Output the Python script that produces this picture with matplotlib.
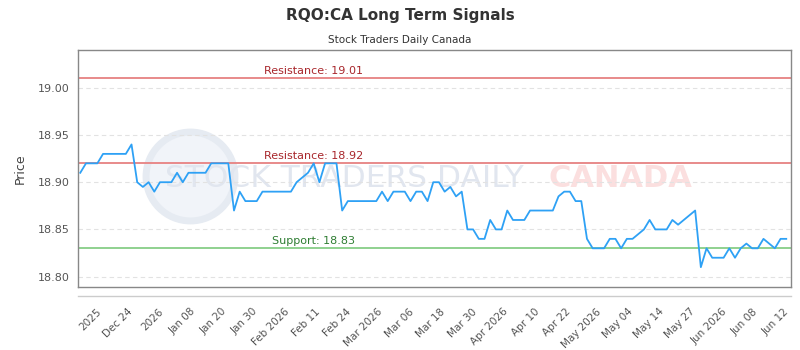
import numpy as np
import matplotlib.pyplot as plt

# closing prices, one per trading session
prices = [
    18.91, 18.92, 18.92, 18.92, 18.93, 18.93, 18.93, 18.93, 18.93, 18.94,
    18.90, 18.895, 18.90, 18.89, 18.90, 18.90, 18.90, 18.91, 18.90, 18.91,
    18.91, 18.91, 18.91, 18.92, 18.92, 18.92, 18.92, 18.87, 18.89, 18.88,
    18.88, 18.88, 18.89, 18.89, 18.89, 18.89, 18.89, 18.89, 18.90, 18.905,
    18.91, 18.92, 18.90, 18.92, 18.92, 18.92, 18.87, 18.88, 18.88, 18.88,
    18.88, 18.88, 18.88, 18.89, 18.88, 18.89, 18.89, 18.89, 18.88, 18.89,
    18.89, 18.88, 18.90, 18.90, 18.89, 18.895, 18.885, 18.89, 18.85, 18.85,
    18.84, 18.84, 18.86, 18.85, 18.85, 18.87, 18.86, 18.86, 18.86, 18.87,
    18.87, 18.87, 18.87, 18.87, 18.885, 18.89, 18.89, 18.88, 18.88, 18.84,
    18.83, 18.83, 18.83, 18.84, 18.84, 18.83, 18.84, 18.84, 18.845, 18.85,
    18.86, 18.85, 18.85, 18.85, 18.86, 18.855, 18.86, 18.865, 18.87, 18.81,
    18.83, 18.82, 18.82, 18.82, 18.83, 18.82, 18.83, 18.835, 18.83, 18.83,
    18.84, 18.835, 18.83, 18.84, 18.84,
]
tick_labels = ['2025', 'Dec 24', '2026', 'Jan 08', 'Jan 20', 'Jan 30', 'Feb 2026',
               'Feb 11', 'Feb 24', 'Mar 2026', 'Mar 06', 'Mar 18', 'Mar 30',
               'Apr 2026', 'Apr 10', 'Apr 22', 'May 2026', 'May 04', 'May 14',
               'May 27', 'Jun 2026', 'Jun 08', 'Jun 12']
levels = [19.01, 18.92, 18.83]
level_names = ['Resistance', 'Resistance', 'Support']

x = np.arange(len(prices))

fig = plt.figure(figsize=(8, 3.5), dpi=100)
ax = fig.add_axes([0.0975, 0.18, 0.891, 0.677])

# faint watermark (logo circle + text)
ax.plot([0.157], [0.47], 'o', ms=64, mfc='#f1f4f9', mec='#e6ebf2', mew=5,
        transform=ax.transAxes, zorder=0)
wm = dict(transform=ax.transAxes, va='center', zorder=0.5)
ax.text(0.122, 0.46, 'STOCK TRADERS DAILY', color='#e1e6ef', ha='left',
        fontsize=22.5, **wm)
ax.text(0.66, 0.46, 'CANADA', color='#fbdfdf', ha='left',
        fontsize=22, fontweight='bold', **wm)

ax.plot(x, prices, color='#2ea1f5', lw=1.3, zorder=3)

for lv, name in zip(levels, level_names):
    if name == 'Support':
        lc, tc = '#8fd18f', '#2e7d32'
    else:
        lc, tc = '#e88a8a', '#a8262b'
    ax.axhline(lv, color=lc, lw=1.4, zorder=2)
    ax.text(41, lv + 0.002, '%s: %.2f' % (name, lv), color=tc, fontsize=8,
            ha='center', va='bottom', zorder=4)

ax.set_xlim(-0.4, 124.8)
ax.set_ylim(18.789, 19.04)
ax.set_yticks([18.80, 18.85, 18.90, 18.95, 19.00])
ax.set_yticklabels(['%.2f' % v for v in ax.get_yticks()])
ax.yaxis.grid(True, ls=(0, (4, 3)), color='#e2e2e2', lw=0.8)
ax.set_axisbelow(True)

ax.set_xticks(np.linspace(2.8, 123.6, len(tick_labels)))
ax.set_xticklabels(tick_labels, rotation=45, ha='right', rotation_mode='anchor')
ax.tick_params(axis='x', length=0, pad=14, labelsize=7.5, colors='#555555')
ax.tick_params(axis='y', length=0, pad=6, labelsize=8, colors='#555555')
for s in ax.spines.values():
    s.set_color('#888888')
    s.set_linewidth(1)

# x axis line under the plot box
ax.plot([0, 1], [-0.038, -0.038], transform=ax.transAxes, color='#cccccc',
        lw=1, clip_on=False)

ax.set_ylabel('Price', fontsize=9, color='#444444', labelpad=8)

fig.text(0.5, 0.955, 'RQO:CA Long Term Signals', ha='center', va='center',
         fontsize=11, fontweight='bold', color='#333333')
fig.text(0.5, 0.885, 'Stock Traders Daily Canada', ha='center', va='center',
         fontsize=7.5, color='#333333')

fig.savefig('out.png', dpi=100)
